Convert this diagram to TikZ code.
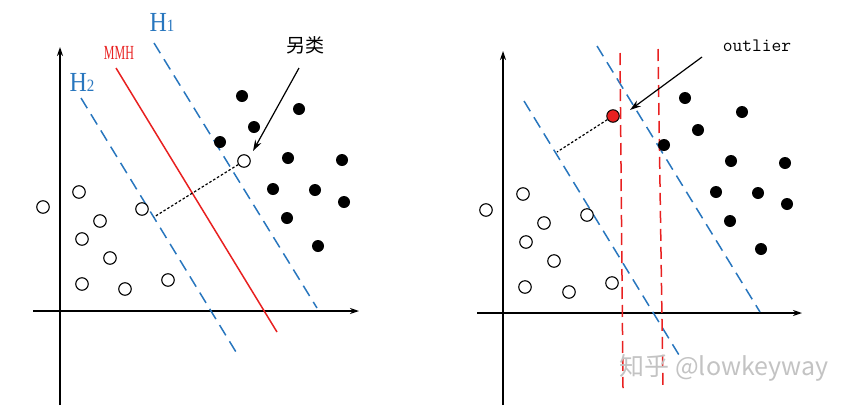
\documentclass[tikz,border=0pt]{standalone}
\usepackage{fontspec}
\setmainfont{Liberation Serif}
\newfontfamily\cjkfont{Noto Sans CJK SC}
\usetikzlibrary{arrows.meta}
\definecolor{mblue}{RGB}{40,118,190}
\definecolor{mred}{RGB}{232,32,32}
\definecolor{wmark}{RGB}{195,195,195}

\begin{document}
\begin{tikzpicture}[x=1pt,y=-1pt]
  \tikzstyle{axis}=[line width=1.4pt,-{Stealth[length=9pt,width=6pt]}]
  \tikzstyle{negdot}=[circle,draw,line width=1.1pt,minimum size=12.5pt,inner sep=0pt,fill=white]
  \tikzstyle{posdot}=[circle,fill=black,minimum size=12pt,inner sep=0pt]
  \tikzstyle{margin}=[mblue,line width=1.5pt,dash pattern=on 12pt off 7pt]
  \tikzstyle{sep}=[mred,line width=1.5pt]
  \tikzstyle{vsep}=[mred,line width=1.5pt,dash pattern=on 12pt off 6pt]
  \tikzstyle{proj}=[line width=1.2pt,dash pattern=on 2.5pt off 2pt]
  \tikzstyle{pointer}=[line width=1.2pt,-{Stealth[length=11pt,width=7pt]}]
  \tikzstyle{hlabel}=[mblue,yscale=1.15,font=\fontsize{24}{24}\selectfont,inner sep=1pt]
  \useasboundingbox (0,0) rectangle (853,405);

  % left panel: axes
  \coordinate (lyb) at (60,405);
  \coordinate (lyt) at (60,47);
  \coordinate (lxl) at (33,311);
  \coordinate (lxr) at (359,311);
  \draw[axis] (lyb) -- (lyt);
  \draw[axis] (lxl) -- (lxr);

  % left panel: hyperplanes
  \coordinate (h1a) at (154,43);
  \coordinate (h1b) at (317,308);
  \coordinate (h2a) at (81,98);
  \coordinate (h2b) at (236,352);
  \coordinate (mma) at (116,68);
  \coordinate (mmb) at (277,332);
  \draw[margin] (h1a) -- (h1b);
  \draw[margin] (h2a) -- (h2b);
  \draw[sep] (mma) -- (mmb);
  \node[hlabel] (h1) at (162,22) {H\fontsize{15}{15}\selectfont 1};
  \node[hlabel] (h2) at (82,82) {H\fontsize{15}{15}\selectfont 2};
  \node[mred,xscale=0.6,font=\fontsize{20}{20}\selectfont,inner sep=1pt] (mmh) at (119,53) {MMH};

  % left panel: samples
  \foreach \n/\x/\y in {1/43/207,2/79/192,3/142/209,4/100/221,5/82/239,
                        6/110/258,7/82/284,8/125/289,9/168/280}
    \node[negdot] (ln\n) at (\x,\y) {};
  \foreach \n/\x/\y in {1/242/96,2/299/109,3/254/127,4/220/142,5/288/158,6/342/160,
                        7/273/189,8/315/190,9/344/202,10/287/218,11/318/246}
    \node[posdot] (lp\n) at (\x,\y) {};
  \node[negdot] (lout) at (244,161) {};

  % left panel: outlier note
  \coordinate (lfoot) at (154,217);
  \draw[proj] (lout) -- (lfoot);
  \node[font=\cjkfont\fontsize{19}{19}\selectfont,inner sep=1pt] (lnote) at (305,45) {另类};
  \coordinate (ltail) at (299,68);
  \coordinate (ltip) at (253,151);
  \draw[pointer] (ltail) -- (ltip);

  % right panel: axes
  \coordinate (ryb) at (503,405);
  \coordinate (ryt) at (503,51);
  \coordinate (rxl) at (477,313);
  \coordinate (rxr) at (802,313);
  \draw[axis] (ryb) -- (ryt);
  \draw[axis] (rxl) -- (rxr);

  % right panel: margins
  \coordinate (r1a) at (524,101);
  \coordinate (r1b) at (679,355);
  \coordinate (r2a) at (597,46);
  \coordinate (r2b) at (760,312);
  \coordinate (v1a) at (620,53);
  \coordinate (v1b) at (623,388);
  \coordinate (v2a) at (658,49);
  \coordinate (v2b) at (663,388);
  \draw[margin] (r1a) -- (r1b);
  \draw[margin] (r2a) -- (r2b);
  \draw[vsep] (v1a) -- (v1b);
  \draw[vsep] (v2a) -- (v2b);

  % right panel: samples
  \foreach \n/\x/\y in {1/486/210,2/523/194,3/587/215,4/544/223,5/526/242,
                        6/554/261,7/525/287,8/569/292,9/612/283}
    \node[negdot] (rn\n) at (\x,\y) {};
  \foreach \n/\x/\y in {1/685/98,2/742/112,3/698/130,4/664/145,5/731/161,6/785/163,
                        7/716/192,8/758/193,9/787/204,10/730/221,11/761/249}
    \node[posdot] (rp\n) at (\x,\y) {};
  \node[circle,draw,fill=mred,line width=1pt,minimum size=12.5pt,inner sep=0pt] (rout) at (613,116) {};

  % right panel: outlier note
  \coordinate (rfoot) at (557,152);
  \draw[proj] (rout) -- (rfoot);
  \node[font=\ttfamily\fontsize{19}{19}\selectfont,inner sep=1pt] (rnote) at (757,46) {outlier};
  \coordinate (rtail) at (702,57);
  \coordinate (rtip) at (630,110);
  \draw[pointer] (rtail) -- (rtip);

  % watermark
  \node[wmark,font=\cjkfont\fontsize{25}{25}\selectfont,inner sep=0pt] (wm) at (724,368) {知乎 @lowkeyway};
\end{tikzpicture}
\end{document}
